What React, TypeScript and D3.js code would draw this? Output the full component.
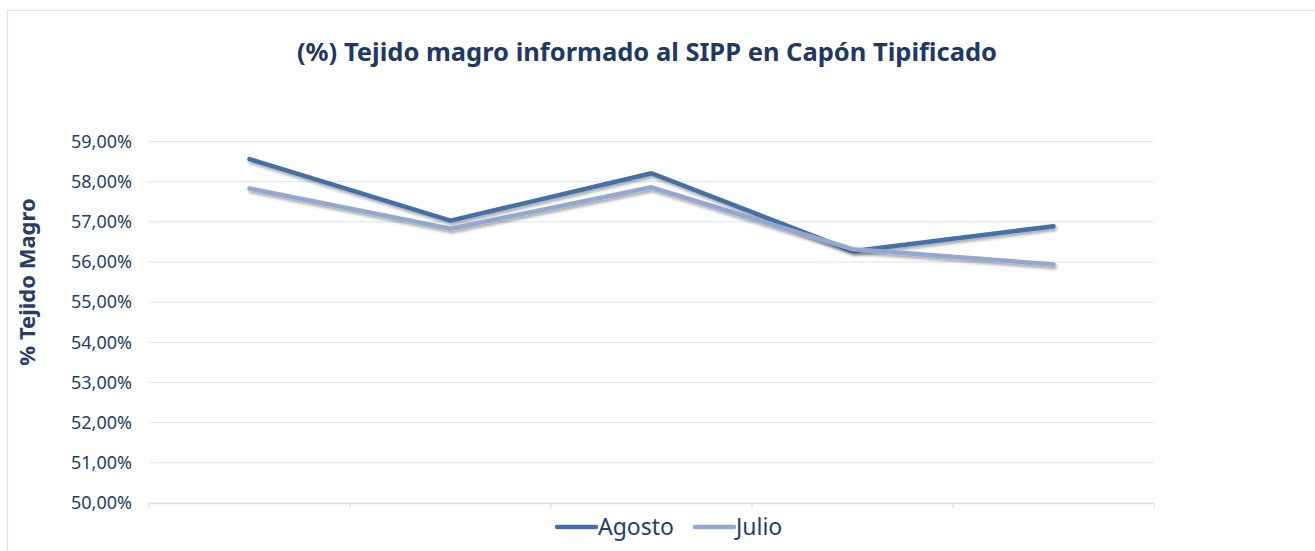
import * as d3 from 'd3';
import React, { useEffect, useRef } from 'react';

const categories = ['1', '2', '3', '4', '5'];
const agosto = [58.56, 57.03, 58.21, 56.27, 56.89];
const julio = [57.83, 56.83, 57.86, 56.32, 55.94];
const yTicks = [50, 51, 52, 53, 54, 55, 56, 57, 58, 59];

const seriesList = [
  { name: 'Agosto', values: agosto, color: '#4470A6' },
  { name: 'Julio', values: julio, color: '#93A8CF' },
];

const textColor = '#243F66';
const gridColor = '#D9E4F3';
const font = "'Noto Sans', 'DejaVu Sans', sans-serif";

const App = () => {
  const svgRef = useRef(null);

  useEffect(() => {
    const svg = d3.select(svgRef.current);
    svg.selectAll('*').remove();

    const left = 149;
    const right = 1154;
    const top = 141.5;
    const bottom = 503;

    const xScale = d3.scaleBand().domain(categories).range([left, right]);
    const yScale = d3.scaleLinear().domain([50, 59]).range([bottom, top]);

    const defs = svg.append('defs');
    const filter = defs
      .append('filter')
      .attr('id', 'shadow')
      .attr('x', '-5%')
      .attr('y', '-20%')
      .attr('width', '110%')
      .attr('height', '150%');
    filter
      .append('feDropShadow')
      .attr('dx', 1.5)
      .attr('dy', 2.5)
      .attr('stdDeviation', 1.5)
      .attr('flood-color', '#000')
      .attr('flood-opacity', 0.35);

    // chart border (runs off the right and bottom)
    svg
      .append('rect')
      .attr('x', 7.5)
      .attr('y', 10.5)
      .attr('width', 1320)
      .attr('height', 560)
      .attr('fill', '#fff')
      .attr('stroke', gridColor)
      .attr('stroke-width', 1.3);

    svg
      .append('text')
      .attr('x', 647)
      .attr('y', 61)
      .attr('text-anchor', 'middle')
      .style('font-family', font)
      .style('font-weight', 'bold')
      .style('font-size', '25.5px')
      .style('fill', '#1F3864')
      .text('(%) Tejido magro informado al SIPP en Capón Tipificado');

    svg
      .append('text')
      .attr('transform', `translate(27,282) rotate(-90)`)
      .attr('text-anchor', 'middle')
      .attr('dy', '0.35em')
      .style('font-family', font)
      .style('font-weight', 'bold')
      .style('font-size', '22px')
      .style('fill', textColor)
      .text('% Tejido Magro');

    // gridlines
    svg
      .append('g')
      .selectAll('line')
      .data(yTicks)
      .enter()
      .append('line')
      .attr('x1', left)
      .attr('x2', right)
      .attr('y1', (d) => yScale(d))
      .attr('y2', (d) => yScale(d))
      .attr('stroke', gridColor)
      .attr('stroke-width', 1);

    svg
      .append('g')
      .selectAll('text')
      .data(yTicks)
      .enter()
      .append('text')
      .attr('x', 132)
      .attr('y', (d) => yScale(d))
      .attr('dy', '0.35em')
      .attr('text-anchor', 'end')
      .style('font-family', font)
      .style('font-size', '18px')
      .style('fill', textColor)
      .text((d) => d3.format('.2f')(d).replace('.', ',') + '%');

    // x axis
    const xAxis = svg
      .append('g')
      .attr('transform', `translate(0,${bottom})`)
      .call(d3.axisBottom(xScale).tickValues([]).tickSizeOuter(0));
    xAxis.select('.domain').attr('stroke', gridColor).attr('stroke-width', 1.5);
    const boundaries = categories.map((c) => xScale(c) as number).concat([right]);
    xAxis
      .selectAll('line.tk')
      .data(boundaries)
      .enter()
      .append('line')
      .attr('class', 'tk')
      .attr('x1', (d) => d)
      .attr('x2', (d) => d)
      .attr('y1', 0)
      .attr('y2', 5)
      .attr('stroke', gridColor)
      .attr('stroke-width', 1.3);

    const line = d3
      .line<number>()
      .x((d, i) => (xScale(categories[i]) as number) + xScale.bandwidth() / 2)
      .y((d) => yScale(d));

    seriesList.forEach((s) => {
      svg
        .append('path')
        .datum(s.values)
        .attr('d', line)
        .attr('fill', 'none')
        .attr('stroke', s.color)
        .attr('stroke-width', 4.5)
        .attr('stroke-linecap', 'round')
        .attr('stroke-linejoin', 'round')
        .attr('filter', 'url(#shadow)');
    });

    // legend
    const legendX = [557, 695];
    seriesList.forEach((s, i) => {
      const g = svg.append('g').attr('transform', `translate(${legendX[i]},527)`);
      g.append('line')
        .attr('x1', 0)
        .attr('x2', 39)
        .attr('stroke', s.color)
        .attr('stroke-width', 4.5)
        .attr('stroke-linecap', 'round');
      g.append('text')
        .attr('x', 41)
        .attr('dy', '0.36em')
        .style('font-family', font)
        .style('font-size', '23px')
        .style('fill', textColor)
        .text(s.name);
    });
  }, []);

  return (
    <svg
      ref={svgRef}
      width={1315}
      height={551}
      style={{ display: 'block', position: 'absolute', left: 0, top: 0 }}
    />
  );
};

export default App;
